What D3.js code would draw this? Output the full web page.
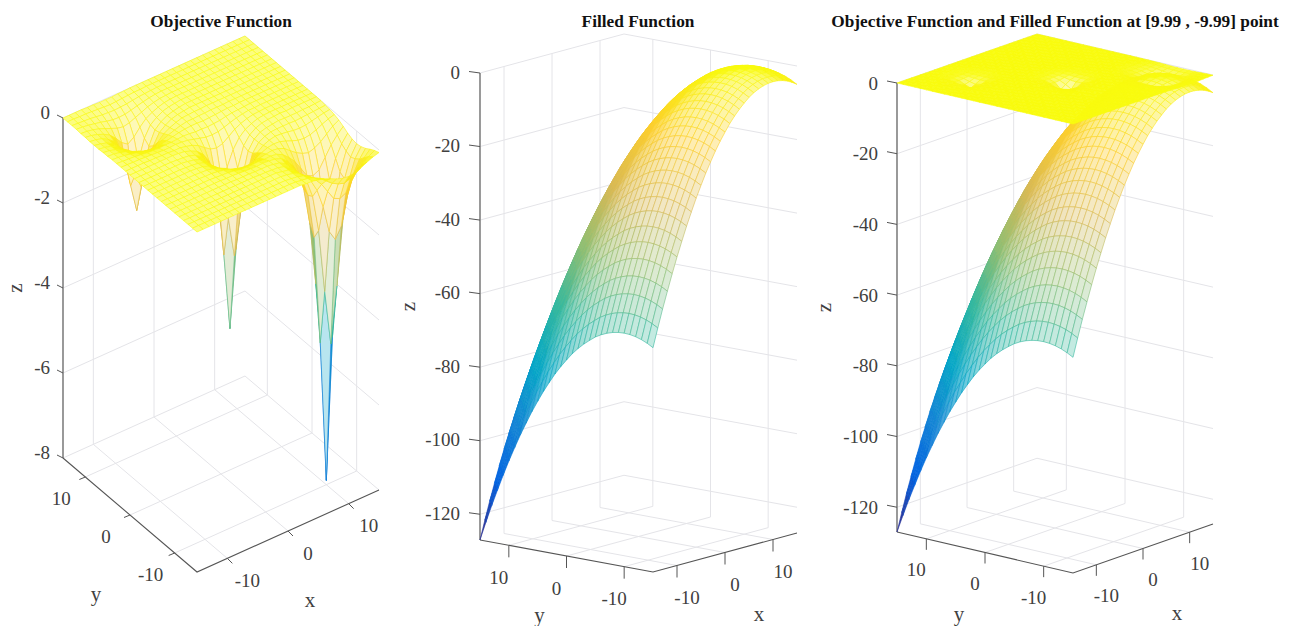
<!DOCTYPE html>
<html>
<head>
<meta charset="utf-8">
<script src="https://cdn.jsdelivr.net/npm/d3@7"></script>
<style>
  html, body { margin: 0; padding: 0; background: #fff; }
  text { font-family: "Liberation Serif", serif; fill: #404040; }
  .title { font-weight: bold; fill: #111; }
</style>
</head>
<body>
<div id="canvas"></div>
<script>
var gridX = [-15,-14,-13,-12,-11,-10,-9,-8,-7,-6,-5,-4,-3,-2,-1,0,1,2,3,4,5,6,7,8,9,10,11,12,13,14,15];
var gridY = [15,14,13,12,11,10,9,8,7,6,5,4,3,2,1,0,-1,-2,-3,-4,-5,-6,-7,-8,-9,-10,-11,-12,-13,-14,-15];
var xyTicks = [-10,0,10];
var zTicksObjective = [0,-2,-4,-6,-8];
var zTicksFilled = [0,-20,-40,-60,-80,-100,-120];
var titles = ['Objective Function','Filled Function','Objective Function and Filled Function at [9.99 , -9.99] point'];

// Depth below z=0. Rows follow gridY, columns follow gridX.
var objectiveDepth = [
[0,0,0,0,.01,.01,.02,.02,.02,.01,.01,0,0,0,0,0,0,0,0,0,0,0,0,0,0,0,0,0,0,0,0],
[0,0,.01,.01,.02,.03,.04,.05,.04,.03,.02,.01,.01,0,0,0,0,0,0,0,0,0,0,0,0,0,0,0,0,0,0],
[0,.01,.02,.03,.05,.07,.08,.09,.08,.07,.05,.03,.02,.01,0,0,0,0,0,0,0,0,0,0,0,0,0,0,0,0,0],
[0,.01,.03,.06,.09,.13,.16,.17,.16,.13,.09,.06,.03,.01,0,0,0,0,0,0,0,0,0,0,0,0,0,0,0,0,0],
[.01,.02,.05,.09,.15,.21,.27,.3,.27,.21,.15,.09,.05,.02,.01,0,0,0,0,0,0,0,0,0,0,0,0,0,0,0,0],
[.01,.03,.07,.13,.21,.35,.52,.62,.52,.35,.21,.13,.07,.03,.01,0,0,0,0,0,0,0,0,0,0,0,0,0,0,0,0],
[.02,.04,.08,.16,.27,.52,1,1.35,1,.52,.27,.16,.08,.04,.02,0,0,0,0,0,0,0,0,0,0,0,0,0,0,0,0],
[.02,.05,.09,.17,.3,.62,1.35,2,1.35,.62,.3,.17,.09,.05,.02,0,0,0,0,0,0,0,0,0,0,0,0,0,0,0,0],
[.02,.04,.08,.16,.27,.52,1,1.35,1,.52,.27,.16,.08,.04,.02,0,0,0,0,0,0,0,0,0,0,0,0,0,0,0,0],
[.01,.03,.07,.13,.21,.35,.52,.62,.52,.35,.21,.13,.07,.03,.02,.01,.01,0,0,0,0,0,0,0,0,0,0,0,0,0,0],
[.01,.02,.05,.09,.15,.21,.27,.3,.27,.21,.15,.1,.06,.03,.03,.02,.02,.01,.01,.01,0,0,0,0,0,0,0,0,0,0,0],
[0,.01,.03,.06,.09,.13,.16,.17,.16,.13,.1,.07,.05,.04,.04,.05,.04,.03,.02,.01,.01,0,0,0,0,0,0,0,0,0,0],
[0,.01,.02,.03,.05,.07,.08,.09,.08,.08,.07,.06,.07,.09,.09,.1,.09,.08,.05,.03,.02,.01,0,0,0,0,0,0,0,0,0],
[0,0,.01,.01,.02,.03,.04,.05,.05,.04,.05,.07,.11,.15,.19,.2,.19,.15,.1,.06,.03,.01,.01,0,0,0,0,0,0,0,0],
[0,0,0,0,.01,.01,.02,.02,.03,.03,.06,.1,.17,.28,.38,.42,.38,.28,.17,.1,.05,.02,.01,0,0,0,0,0,0,0,0],
[0,0,0,0,0,0,0,0,.01,.03,.08,.15,.28,.5,.85,1,.85,.5,.28,.15,.08,.03,.01,0,0,0,0,0,0,0,0],
[0,0,0,0,0,0,0,.01,.02,.04,.09,.19,.38,.85,1.65,2.6,1.65,.85,.38,.19,.09,.04,.02,.01,0,.01,0,0,0,0,0],
[0,0,0,0,0,0,0,0,.02,.05,.1,.2,.42,1,2.6,4.4,2.6,1,.42,.2,.1,.06,.04,.02,.03,.03,.03,.02,.02,.01,0],
[0,0,0,0,0,0,0,.01,.02,.04,.09,.19,.38,.85,1.65,2.6,1.65,.85,.38,.19,.11,.07,.06,.06,.06,.07,.06,.05,.04,.03,.02],
[0,0,0,0,0,0,0,0,.01,.03,.08,.15,.28,.5,.85,1,.85,.5,.28,.17,.11,.08,.09,.11,.14,.15,.14,.11,.08,.05,.03],
[0,0,0,0,0,0,0,0,.01,.02,.05,.1,.17,.28,.38,.42,.38,.28,.19,.13,.11,.12,.17,.23,.28,.3,.28,.23,.16,.1,.06],
[0,0,0,0,0,0,0,0,.01,.01,.03,.06,.1,.15,.19,.2,.19,.16,.13,.11,.13,.19,.31,.42,.5,.55,.5,.42,.3,.18,.1],
[0,0,0,0,0,0,0,0,0,.01,.02,.03,.05,.08,.09,.1,.09,.1,.09,.11,.18,.31,.47,.7,.93,1,.93,.7,.47,.3,.16],
[0,0,0,0,0,0,0,0,0,0,.01,.01,.02,.03,.04,.05,.04,.05,.07,.12,.24,.42,.7,1.15,1.8,2.05,1.8,1.15,.7,.42,.23],
[0,0,0,0,0,0,0,0,0,0,0,.01,.01,.01,.02,.02,.02,.04,.07,.15,.28,.5,.93,1.8,3.3,4.6,3.3,1.8,.93,.5,.28],
[0,0,0,0,0,0,0,0,0,0,0,0,0,0,.01,.01,.02,.03,.07,.15,.3,.55,1,2.05,4.6,7.9,4.6,2.05,1,.55,.3],
[0,0,0,0,0,0,0,0,0,0,0,0,0,0,0,0,0,.03,.06,.14,.28,.5,.93,1.8,3.3,4.6,3.3,1.8,.93,.5,.28],
[0,0,0,0,0,0,0,0,0,0,0,0,0,0,0,0,0,.02,.05,.11,.23,.42,.7,1.15,1.8,2.05,1.8,1.15,.7,.42,.23],
[0,0,0,0,0,0,0,0,0,0,0,0,0,0,0,0,0,.02,.04,.08,.16,.3,.47,.7,.93,1,.93,.7,.47,.3,.16],
[0,0,0,0,0,0,0,0,0,0,0,0,0,0,0,0,0,.01,.03,.05,.1,.18,.3,.42,.5,.55,.5,.42,.3,.18,.1],
[0,0,0,0,0,0,0,0,0,0,0,0,0,0,0,0,0,0,.02,.03,.06,.1,.16,.23,.28,.3,.28,.23,.16,.1,.06]
];

var filledDepth = [
[127,122,117.2,112.7,108.3,104.1,100.2,96.4,92.9,89.5,86.4,83.4,80.7,78.1,75.8,73.7,71.7,70,68.5,67.2,66,65.1,64.4,63.9,63.6,63.5,63.6,63.9,64.4,65.1,66],
[122,117,112.2,107.7,103.3,99.1,95.2,91.4,87.9,84.5,81.4,78.4,75.7,73.1,70.8,68.7,66.7,65,63.5,62.2,61,60.1,59.4,58.9,58.6,58.5,58.6,58.9,59.4,60.1,61],
[117.2,112.2,107.4,102.9,98.5,94.3,90.4,86.6,83.1,79.7,76.6,73.6,70.9,68.3,66,63.9,61.9,60.2,58.7,57.4,56.2,55.3,54.6,54.1,53.8,53.7,53.8,54.1,54.6,55.3,56.2],
[112.7,107.7,102.9,98.4,94,89.8,85.9,82.1,78.6,75.2,72.1,69.1,66.4,63.8,61.5,59.4,57.4,55.7,54.2,52.9,51.7,50.8,50.1,49.6,49.3,49.2,49.3,49.6,50.1,50.8,51.7],
[108.3,103.3,98.5,94,89.6,85.4,81.5,77.7,74.2,70.8,67.7,64.7,62,59.4,57.1,55,53,51.3,49.8,48.5,47.3,46.4,45.7,45.2,44.9,44.8,44.9,45.2,45.7,46.4,47.3],
[104.1,99.1,94.3,89.8,85.4,81.2,77.3,73.5,70,66.6,63.5,60.5,57.8,55.2,52.9,50.8,48.8,47.1,45.6,44.3,43.1,42.2,41.5,41,40.7,40.6,40.7,41,41.5,42.2,43.1],
[100.2,95.2,90.4,85.9,81.5,77.3,73.4,69.6,66.1,62.7,59.6,56.6,53.9,51.3,49,46.9,44.9,43.2,41.7,40.4,39.2,38.3,37.6,37.1,36.8,36.7,36.8,37.1,37.6,38.3,39.2],
[96.4,91.4,86.6,82.1,77.7,73.5,69.6,65.8,62.3,58.9,55.8,52.8,50.1,47.5,45.2,43.1,41.1,39.4,37.9,36.6,35.4,34.5,33.8,33.3,33,32.9,33,33.3,33.8,34.5,35.4],
[92.9,87.9,83.1,78.6,74.2,70,66.1,62.3,58.8,55.4,52.3,49.3,46.6,44,41.7,39.6,37.6,35.9,34.4,33.1,31.9,31,30.3,29.8,29.5,29.4,29.5,29.8,30.3,31,31.9],
[89.5,84.5,79.7,75.2,70.8,66.6,62.7,58.9,55.4,52,48.9,45.9,43.2,40.6,38.3,36.2,34.2,32.5,31,29.7,28.5,27.6,26.9,26.4,26.1,26,26.1,26.4,26.9,27.6,28.5],
[86.4,81.4,76.6,72.1,67.7,63.5,59.6,55.8,52.3,48.9,45.8,42.8,40.1,37.5,35.2,33.1,31.1,29.4,27.9,26.6,25.4,24.5,23.8,23.3,23,22.9,23,23.3,23.8,24.5,25.4],
[83.4,78.4,73.6,69.1,64.7,60.5,56.6,52.8,49.3,45.9,42.8,39.8,37.1,34.5,32.2,30.1,28.1,26.4,24.9,23.6,22.4,21.5,20.8,20.3,20,19.9,20,20.3,20.8,21.5,22.4],
[80.7,75.7,70.9,66.4,62,57.8,53.9,50.1,46.6,43.2,40.1,37.1,34.4,31.8,29.5,27.4,25.4,23.7,22.2,20.9,19.7,18.8,18.1,17.6,17.3,17.2,17.3,17.6,18.1,18.8,19.7],
[78.1,73.1,68.3,63.8,59.4,55.2,51.3,47.5,44,40.6,37.5,34.5,31.8,29.2,26.9,24.8,22.8,21.1,19.6,18.3,17.1,16.2,15.5,15,14.7,14.6,14.7,15,15.5,16.2,17.1],
[75.8,70.8,66,61.5,57.1,52.9,49,45.2,41.7,38.3,35.2,32.2,29.5,26.9,24.6,22.5,20.5,18.8,17.3,16,14.8,13.9,13.2,12.7,12.4,12.3,12.4,12.7,13.2,13.9,14.8],
[73.7,68.7,63.9,59.4,55,50.8,46.9,43.1,39.6,36.2,33.1,30.1,27.4,24.8,22.5,20.4,18.4,16.7,15.2,13.9,12.7,11.8,11.1,10.6,10.3,10.2,10.3,10.6,11.1,11.8,12.7],
[71.7,66.7,61.9,57.4,53,48.8,44.9,41.1,37.6,34.2,31.1,28.1,25.4,22.8,20.5,18.4,16.4,14.7,13.2,11.9,10.7,9.8,9.1,8.6,8.3,8.2,8.3,8.6,9.1,9.8,10.7],
[70,65,60.2,55.7,51.3,47.1,43.2,39.4,35.9,32.5,29.4,26.4,23.7,21.1,18.8,16.7,14.7,13,11.5,10.2,9,8.1,7.4,6.9,6.6,6.5,6.6,6.9,7.4,8.1,9],
[68.5,63.5,58.7,54.2,49.8,45.6,41.7,37.9,34.4,31,27.9,24.9,22.2,19.6,17.3,15.2,13.2,11.5,10,8.7,7.5,6.6,5.9,5.4,5.1,5,5.1,5.4,5.9,6.6,7.5],
[67.2,62.2,57.4,52.9,48.5,44.3,40.4,36.6,33.1,29.7,26.6,23.6,20.9,18.3,16,13.9,11.9,10.2,8.7,7.4,6.2,5.3,4.6,4.1,3.8,3.7,3.8,4.1,4.6,5.3,6.2],
[66,61,56.2,51.7,47.3,43.1,39.2,35.4,31.9,28.5,25.4,22.4,19.7,17.1,14.8,12.7,10.7,9,7.5,6.2,5,4.1,3.4,2.9,2.6,2.5,2.6,2.9,3.4,4.1,5],
[65.1,60.1,55.3,50.8,46.4,42.2,38.3,34.5,31,27.6,24.5,21.5,18.8,16.2,13.9,11.8,9.8,8.1,6.6,5.3,4.1,3.2,2.5,2,1.7,1.6,1.7,2,2.5,3.2,4.1],
[64.4,59.4,54.6,50.1,45.7,41.5,37.6,33.8,30.3,26.9,23.8,20.8,18.1,15.5,13.2,11.1,9.1,7.4,5.9,4.6,3.4,2.5,1.8,1.3,1,.9,1,1.3,1.8,2.5,3.4],
[63.9,58.9,54.1,49.6,45.2,41,37.1,33.3,29.8,26.4,23.3,20.3,17.6,15,12.7,10.6,8.6,6.9,5.4,4.1,2.9,2,1.3,.8,.5,.4,.5,.8,1.3,2,2.9],
[63.6,58.6,53.8,49.3,44.9,40.7,36.8,33,29.5,26.1,23,20,17.3,14.7,12.4,10.3,8.3,6.6,5.1,3.8,2.6,1.7,1,.5,.2,.1,.2,.5,1,1.7,2.6],
[63.5,58.5,53.7,49.2,44.8,40.6,36.7,32.9,29.4,26,22.9,19.9,17.2,14.6,12.3,10.2,8.2,6.5,5,3.7,2.5,1.6,.9,.4,.1,0,.1,.4,.9,1.6,2.5],
[63.6,58.6,53.8,49.3,44.9,40.7,36.8,33,29.5,26.1,23,20,17.3,14.7,12.4,10.3,8.3,6.6,5.1,3.8,2.6,1.7,1,.5,.2,.1,.2,.5,1,1.7,2.6],
[63.9,58.9,54.1,49.6,45.2,41,37.1,33.3,29.8,26.4,23.3,20.3,17.6,15,12.7,10.6,8.6,6.9,5.4,4.1,2.9,2,1.3,.8,.5,.4,.5,.8,1.3,2,2.9],
[64.4,59.4,54.6,50.1,45.7,41.5,37.6,33.8,30.3,26.9,23.8,20.8,18.1,15.5,13.2,11.1,9.1,7.4,5.9,4.6,3.4,2.5,1.8,1.3,1,.9,1,1.3,1.8,2.5,3.4],
[65.1,60.1,55.3,50.8,46.4,42.2,38.3,34.5,31,27.6,24.5,21.5,18.8,16.2,13.9,11.8,9.8,8.1,6.6,5.3,4.1,3.2,2.5,2,1.7,1.6,1.7,2,2.5,3.2,4.1],
[66,61,56.2,51.7,47.3,43.1,39.2,35.4,31.9,28.5,25.4,22.4,19.7,17.1,14.8,12.7,10.7,9,7.5,6.2,5,4.1,3.4,2.9,2.6,2.5,2.6,2.9,3.4,4.1,5]
];

// parula colormap stops
var parula = ['#352a87','#0363e1','#1485d4','#06a7c6','#38b99e','#92bf73','#d9ba56','#fcce2e','#f9fb0e'];

var W = 1293, H = 626;
var svg = d3.select('#canvas').append('svg').attr('width', W).attr('height', H);

// Each panel is an oblique view: origin is the (-15, 15, 0) corner, xv and yv the screen
// vectors of the x and y edges, zPx the height of the z edge.
var panels = [
  {title: titles[0], titleX: 221, ox: 63, oy: 118, xv: [182,-82], yv: [134,114], zMin: -8, zPx: 340,
   zTicks: zTicksObjective, tickX: [5,5], tickY: [-6,2.5], tickZ: [-6,-3],
   labX: [20,22], labY: [-24,21], labZ: [-13,-6], nameX: [22,69], nameY: [-34,79], nameZ: -48,
   surfaces: [objectiveDepth]},
  {title: titles[1], titleX: 638, ox: 480, oy: 73, xv: [144,-39], yv: [173,32], zMin: -127, zPx: 467,
   zTicks: zTicksFilled, tickX: [0,12], tickY: [0,12], tickZ: [-11,-1.5],
   labX: [10,32], labY: [-10,32], labZ: [-20,-1], nameX: [34,61], nameY: [-27,59], nameZ: -72,
   surfaces: [filledDepth]},
  {title: titles[2], titleX: 1055, ox: 897, oy: 83, xv: [140,-49], yv: [176,41], zMin: -127, zPx: 449,
   zTicks: zTicksFilled, tickX: [0,11], tickY: [0,11], tickZ: [-10,-2],
   labX: [10,31], labY: [-10,31], labZ: [-19,0], nameX: [34,64], nameY: [-26,61], nameZ: -73,
   surfaces: [filledDepth, objectiveDepth]}
];

var scaleU = d3.scaleLinear().domain([-15,15]).range([0,1]);
var scaleV = d3.scaleLinear().domain([15,-15]).range([0,1]);
var line = d3.line();
var meshWeight = .75;

panels.forEach(drawPanel);

function drawPanel(p){
  var g = svg.append('g');
  var scaleZ = d3.scaleLinear().domain([0,p.zMin]).range([0,p.zPx]);
  var scaleColor = d3.scaleLinear()
      .domain(d3.range(parula.length).map(function(i){ return p.zMin*(1-i/(parula.length-1)); }))
      .range(parula);

  function project(x,y,z){
    var u = scaleU(x), v = scaleV(y);
    return [p.ox + u*p.xv[0] + v*p.yv[0], p.oy + u*p.xv[1] + v*p.yv[1] + scaleZ(z)];
  }

  // back walls and floor grid
  var gridLines = [];
  p.zTicks.forEach(function(z){
    gridLines.push([project(-15,15,z), project(15,15,z), project(15,-15,z)]);
  });
  xyTicks.forEach(function(t){
    gridLines.push([project(t,15,0), project(t,15,p.zMin), project(t,-15,p.zMin)]);
    gridLines.push([project(15,t,0), project(15,t,p.zMin), project(-15,t,p.zMin)]);
  });
  g.selectAll('.grid').data(gridLines).enter().append('path')
      .attr('class','grid')
      .attr('d', line)
      .attr('fill','none')
      .attr('stroke','#e4e4e8')
      .attr('stroke-width',1);

  // axis lines
  g.append('path').attr('d', line([project(-15,15,0), project(-15,15,p.zMin)]))
      .attr('stroke','#808080').attr('stroke-width',1.6);
  g.append('path').attr('d', line([project(-15,15,p.zMin), project(-15,-15,p.zMin), project(15,-15,p.zMin)]))
      .attr('fill','none').attr('stroke','#555').attr('stroke-width',1.1);

  // ticks and tick labels
  function addTick(pt, vec){
    g.append('path').attr('d', line([pt, [pt[0]+vec[0], pt[1]+vec[1]]]))
        .attr('stroke','#555').attr('stroke-width',1);
  }
  function addLabel(pt, off, txt, anchor, size, rotate){
    var t = g.append('text')
        .attr('text-anchor', anchor)
        .attr('dy','.35em')
        .style('font-size', size+'px')
        .text(txt);
    if (rotate) t.attr('transform','translate('+(pt[0]+off[0])+','+(pt[1]+off[1])+') rotate(-90)');
    else t.attr('x', pt[0]+off[0]).attr('y', pt[1]+off[1]);
  }
  xyTicks.forEach(function(t){
    var px = project(t,-15,p.zMin), py = project(-15,t,p.zMin);
    addTick(px, p.tickX);
    addTick(py, p.tickY);
    addLabel(px, p.labX, String(t), 'middle', 19);
    addLabel(py, p.labY, String(t), 'middle', 19);
  });
  p.zTicks.forEach(function(z){
    var pz = project(-15,15,z);
    addTick(pz, p.tickZ);
    addLabel(pz, p.labZ, String(z), 'end', 19);
  });
  addLabel(project(0,-15,p.zMin), p.nameX, 'x', 'middle', 21);
  addLabel(project(-15,0,p.zMin), p.nameY, 'y', 'middle', 21);
  addLabel(project(-15,15,p.zMin/2), [p.nameZ,0], 'z', 'middle', 21, true);

  // cells from all surfaces, far corner first, lower surface first
  var cells = [];
  p.surfaces.forEach(function(depth){
    for (var j=0; j<gridY.length-1; j++){
      for (var i=0; i<gridX.length-1; i++){
        var c = [[i,j],[i+1,j],[i+1,j+1],[i,j+1]].map(function(k){
          return {pt: project(gridX[k[0]], gridY[k[1]], -depth[k[1]][k[0]]), z: -depth[k[1]][k[0]]};
        });
        cells.push({corners: c, key: j-i, z: d3.mean(c, function(d){ return d.z; })});
      }
    }
  });
  cells.sort(function(a,b){ return (a.key-b.key) || (a.z-b.z); });

  // tint each face by how much of it a finer mesh would cover
  var mesh = g.append('g');
  cells.forEach(function(c){
    var ring = c.corners.map(function(d){ return d.pt; });
    var cover = meshWeight*d3.polygonLength(ring)/Math.max(1, Math.abs(d3.polygonArea(ring)));
    mesh.append('path')
        .attr('d', line(ring)+'Z')
        .attr('fill', d3.interpolateRgb('#fff', scaleColor(c.z))(Math.min(1, cover)))
        .attr('stroke','none');
    c.corners.forEach(function(d,n){
      var e = c.corners[(n+1)%4];
      mesh.append('path')
          .attr('d', line([d.pt, e.pt]))
          .attr('stroke', scaleColor((d.z+e.z)/2))
          .attr('stroke-width', .6);
    });
  });

  svg.append('text')
      .attr('class','title')
      .attr('x', p.titleX)
      .attr('y', 27)
      .attr('text-anchor','middle')
      .style('font-size','17.3px')
      .text(p.title);
}
</script>
</body>
</html>
